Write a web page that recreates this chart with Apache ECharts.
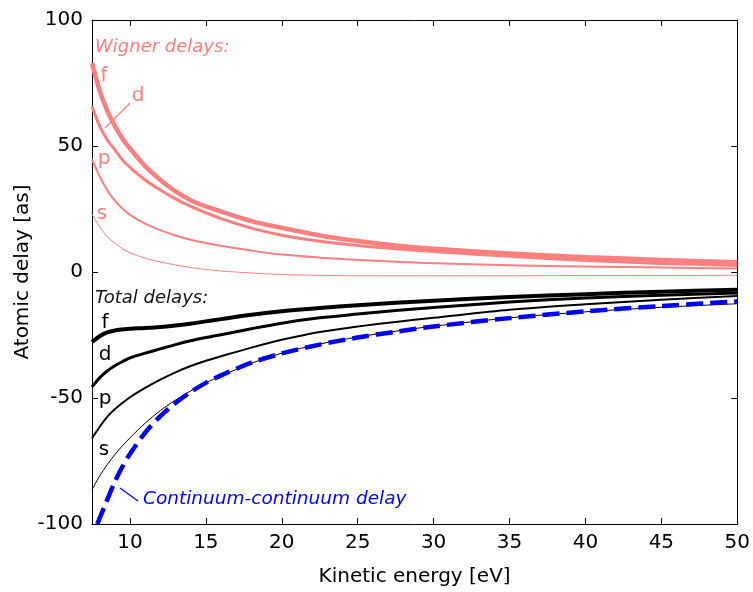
<!DOCTYPE html>
<html>
<head>
<meta charset="utf-8">
<script src="https://cdn.jsdelivr.net/npm/echarts@6/dist/echarts.min.js"></script>
<style>
html,body{margin:0;padding:0;background:#fff;}
#chart{width:753px;height:592px;}
</style>
</head>
<body>
<div id="chart"></div>
<script>
// Kinetic energy grid (eV)
const energy = [7.5, 8, 8.5, 9, 9.5, 10, 11, 12, 13, 14, 15, 16, 18, 20, 22.5, 25, 27.5, 30, 35, 40, 45, 50];
// Wigner delays (as)
const wignerF = [82.9, 72, 64, 58, 53, 49, 42, 36.5, 32, 28.5, 26, 24, 20.2, 17.5, 14.5, 12.3, 10.5, 9.2, 7.3, 5.9, 4.8, 3.9];
const wignerD = [65.7, 58, 52.5, 48.5, 44.5, 41.5, 36.5, 32.5, 29, 26, 23.5, 21.2, 17.4, 14.6, 12.2, 10.5, 9.2, 8.1, 6.2, 4.6, 3.4, 2.6];
const wignerP = [44.7, 38, 32.5, 28.3, 25.2, 22.7, 19.2, 16.6, 14.5, 12.8, 11.5, 10.4, 8.5, 6.9, 5.7, 4.8, 4.1, 3.5, 2.7, 2.2, 1.8, 1.4];
const wignerS = [22.9, 18, 14, 11.5, 9.2, 7.6, 5.5, 4, 2.8, 1.8, 1, 0.4, -0.4, -1, -1.3, -1.5, -1.5, -1.5, -1.5, -1.4, -1.4, -1.3];
// Total delays (as)
const totalF = [-27.8, -25.5, -24, -23.2, -22.8, -22.5, -22.2, -21.8, -21.2, -20.5, -19.6, -18.7, -17, -15.6, -14.3, -13.2, -12.2, -11.4, -9.9, -8.8, -7.8, -7];
const totalD = [-45.6, -42, -39.3, -37.2, -35.6, -34.1, -32.2, -30.5, -28.8, -27.3, -26, -24.9, -22.5, -20.3, -18.2, -16.7, -15.3, -14.1, -11.9, -10.3, -9.2, -8.3];
const totalP = [-66, -61.5, -57.5, -54.5, -52, -49.7, -46, -42.7, -39.8, -37.3, -35.2, -33.4, -30, -26.9, -23.8, -21.6, -19.8, -18.2, -15, -12.8, -11, -9.5];
const totalS = [-86.4, -81, -76.5, -72.5, -69, -65.8, -60, -55, -50.8, -47.2, -44, -41.2, -36.2, -32.2, -28.6, -25.8, -23.5, -21.5, -18.2, -15.8, -14, -12.6];
// Continuum-continuum delay
const ccEnergy = [7.85, 8, 8.5, 9, 9.5, 10, 11, 12, 13, 14, 15, 16, 18, 20, 22.5, 25, 27.5, 30, 35, 40, 45, 50];
const ccDelay = [-100, -97.8, -90.4, -83.3, -77.3, -72.2, -63.8, -57.2, -52, -47.6, -44, -41, -36, -32.3, -28.8, -26, -23.7, -21.6, -18.3, -15.6, -13.5, -11.7];
// Ticks
const xTicks = [10, 15, 20, 25, 30, 35, 40, 45, 50];

const RED = '#ff7f7f';
const FONT = 'DejaVu Sans';

function pairs(xs, ys) { return xs.map((x, i) => [x, ys[i]]); }
function line(name, xs, ys, color, width, type) {
  return {
    name: name, type: 'line', data: pairs(xs, ys), symbol: 'none',
    smooth: 0.3, clip: true,
    lineStyle: { color: color, width: width, type: type || 'solid', cap: 'butt', join: 'round' }
  };
}

const chart = echarts.init(document.getElementById('chart'), null, { renderer: 'canvas' });
const axisCommon = {
  axisLine: { show: true, onZero: false, lineStyle: { color: '#000', width: 1 } },
  splitLine: { show: false }
};
chart.setOption({
  animation: false,
  backgroundColor: '#fff',
  grid: { left: 92, right: 15, top: 20, bottom: 65, containLabel: false },
  xAxis: [
    Object.assign({
      type: 'value', min: 7.5, max: 50, position: 'bottom',
      name: 'Kinetic energy [eV]', nameLocation: 'middle', nameGap: 43,
      nameTextStyle: { fontFamily: FONT, fontSize: 20, color: '#000' },
      axisTick: { show: true, inside: true, length: 6, customValues: xTicks, lineStyle: { color: '#000' } },
      axisLabel: { show: true, customValues: xTicks, margin: 9, fontFamily: FONT, fontSize: 20, color: '#000' }
    }, axisCommon),
    Object.assign({
      type: 'value', min: 7.5, max: 50, position: 'top',
      axisTick: { show: true, inside: true, length: 6, customValues: xTicks, lineStyle: { color: '#000' } },
      axisLabel: { show: false }
    }, axisCommon)
  ],
  yAxis: [
    Object.assign({
      type: 'value', min: -100, max: 100, interval: 50, position: 'left',
      name: 'Atomic delay [as]', nameLocation: 'middle', nameGap: 59, nameRotate: 90,
      nameMoveOverlap: false,
      nameTextStyle: { fontFamily: FONT, fontSize: 20, color: '#000' },
      axisTick: { show: true, inside: true, length: 6, lineStyle: { color: '#000' } },
      axisLabel: { show: true, margin: 9, fontFamily: FONT, fontSize: 20, color: '#000' }
    }, axisCommon),
    Object.assign({
      type: 'value', min: -100, max: 100, interval: 50, position: 'right',
      axisTick: { show: true, inside: true, length: 6, lineStyle: { color: '#000' } },
      axisLabel: { show: false }
    }, axisCommon)
  ],
  series: [
    line('Wigner s', energy, wignerS, RED, 1),
    line('Wigner p', energy, wignerP, RED, 2),
    line('Wigner d', energy, wignerD, RED, 3),
    line('Wigner f', energy, wignerF, RED, 4.5),
    line('Total s', energy, totalS, '#000', 1),
    line('Total p', energy, totalP, '#000', 2),
    line('Total d', energy, totalD, '#000', 3),
    line('Total f', energy, totalF, '#000', 4),
    line('Continuum-continuum delay', ccEnergy, ccDelay, '#0000ff', 4.5, [17, 7])
  ],
  graphic: [
    { type: 'text', left: 95, top: 38, style: { text: 'Wigner delays:', fill: RED, font: 'italic 18px "DejaVu Sans"' } },
    { type: 'text', x: 104, y: 76, style: { text: 'f', fill: RED, font: '20px "DejaVu Sans"', align: 'center', verticalAlign: 'middle' } },
    { type: 'text', x: 138, y: 96, style: { text: 'd', fill: RED, font: '20px "DejaVu Sans"', align: 'center', verticalAlign: 'middle' } },
    { type: 'line', shape: { x1: 105, y1: 128, x2: 130, y2: 103 }, style: { stroke: RED, lineWidth: 1.2 } },
    { type: 'text', x: 104, y: 159, style: { text: 'p', fill: RED, font: '20px "DejaVu Sans"', align: 'center', verticalAlign: 'middle' } },
    { type: 'text', x: 102, y: 214, style: { text: 's', fill: RED, font: '20px "DejaVu Sans"', align: 'center', verticalAlign: 'middle' } },
    { type: 'text', left: 95, top: 289, style: { text: 'Total delays:', fill: '#111', font: 'italic 18px "DejaVu Sans"' } },
    { type: 'text', x: 105, y: 323, style: { text: 'f', fill: '#000', font: '20px "DejaVu Sans"', align: 'center', verticalAlign: 'middle' } },
    { type: 'text', x: 105, y: 355, style: { text: 'd', fill: '#000', font: '20px "DejaVu Sans"', align: 'center', verticalAlign: 'middle' } },
    { type: 'text', x: 105, y: 399, style: { text: 'p', fill: '#000', font: '20px "DejaVu Sans"', align: 'center', verticalAlign: 'middle' } },
    { type: 'text', x: 104, y: 450, style: { text: 's', fill: '#000', font: '20px "DejaVu Sans"', align: 'center', verticalAlign: 'middle' } },
    { type: 'line', shape: { x1: 120, y1: 488, x2: 138, y2: 501 }, style: { stroke: '#0000ff', lineWidth: 1.2 } },
    { type: 'text', left: 143, top: 490, style: { text: 'Continuum-continuum delay', fill: '#0000ff', font: 'italic 18.5px "DejaVu Sans"' } }
  ]
});
</script>
</body>
</html>
